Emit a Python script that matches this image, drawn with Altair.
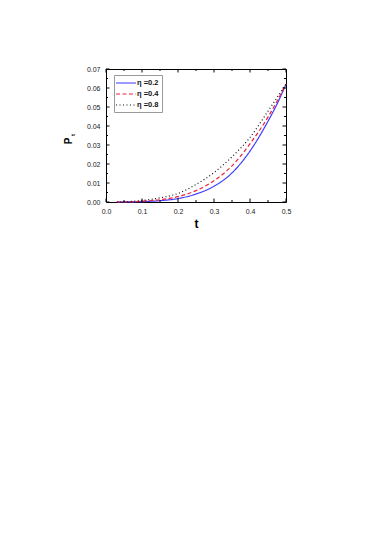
import altair as alt
import pandas as pd

# ---- data ----
t_vals = [0.03, 0.05, 0.1, 0.15, 0.2, 0.25, 0.3, 0.35, 0.4, 0.45, 0.475, 0.5]
p_eta02 = [0.0, 0.00002, 0.0002, 0.0007, 0.0018, 0.0042, 0.0083, 0.0153, 0.0268, 0.0425, 0.0515, 0.062]
p_eta04 = [0.0, 0.00004, 0.0004, 0.0012, 0.0028, 0.006, 0.0112, 0.019, 0.0306, 0.0447, 0.053, 0.062]
p_eta08 = [0.0, 0.0001, 0.0008, 0.0022, 0.0045, 0.0092, 0.0155, 0.0238, 0.034, 0.0478, 0.0549, 0.062]
series_names = ["η =0.2", "η =0.4", "η =0.8"]
series_colors = ["#3b3bff", "#f0203a", "#111111"]
series_dashes = [[1, 0], [4, 2.5], [1, 2.5]]

x_ticks = [0.0, 0.1, 0.2, 0.3, 0.4, 0.5]
x_minor = [0.05, 0.15, 0.25, 0.35, 0.45]
y_ticks = [0.0, 0.01, 0.02, 0.03, 0.04, 0.05, 0.06, 0.07]
y_minor = [0.005, 0.015, 0.025, 0.035, 0.045, 0.055, 0.065]

rows = []
for name, vals in zip(series_names, [p_eta02, p_eta04, p_eta08]):
    for t, p in zip(t_vals, vals):
        rows.append({"t": t, "P": p, "series": name})
df = pd.DataFrame(rows)

W, H = 180, 133
FONT = "Liberation Sans"

xs = alt.Scale(domain=[0, 0.5], nice=False)
ys = alt.Scale(domain=[0, 0.07], nice=False)

x_axis = alt.Axis(values=x_ticks, format=".1f", title="t", ticks=False, domain=False,
                  grid=False, labelFontSize=7, labelPadding=5, labelColor="#222",
                  labelOverlap=False, labelFlush=False,
                  titleFontSize=12, titleFontWeight="bold", titlePadding=4, titleColor="#000")
y_axis = alt.Axis(values=y_ticks, format=".2f", title=None, ticks=False, domain=False,
                  grid=False, labelFontSize=7, labelPadding=6, labelColor="#222",
                  labelOverlap=False, labelFlush=False)

legend_kw = dict(title=None, orient="none", legendX=8, legendY=6,
                 symbolType="M-2.5,0H2.5", symbolSize=64, symbolStrokeWidth=1.2,
                 symbolOffset=4, labelFontSize=7.5, labelFontWeight="bold",
                 labelOffset=6, rowPadding=2, padding=3,
                 strokeColor="#999", fillColor="white", labelColor="#111")

lines = alt.Chart(df).mark_line(strokeWidth=1.2, interpolate="monotone").encode(
    x=alt.X("t:Q", scale=xs, axis=x_axis),
    y=alt.Y("P:Q", scale=ys, axis=y_axis),
    color=alt.Color("series:N", scale=alt.Scale(domain=series_names, range=series_colors),
                    legend=alt.Legend(**legend_kw)),
    strokeDash=alt.StrokeDash("series:N", scale=alt.Scale(domain=series_names, range=series_dashes),
                              legend=alt.Legend(**legend_kw)),
)

def tick_layer(vals, channel, length, side):
    base = alt.Chart(pd.DataFrame({"t" if channel == "x" else "P": vals})).mark_rule(
        color="#000", strokeWidth=1)
    if channel == "x":
        xe = alt.X("t:Q", scale=xs, axis=x_axis)
        if side == "bottom":
            return base.encode(x=xe, y=alt.value(H), y2=alt.value(H - length))
        return base.encode(x=xe, y=alt.value(0), y2=alt.value(length))
    ye = alt.Y("P:Q", scale=ys, axis=y_axis)
    if side == "left":
        return base.encode(y=ye, x=alt.value(0), x2=alt.value(length))
    return base.encode(y=ye, x=alt.value(W), x2=alt.value(W - length))

ticks = [
    tick_layer(x_ticks, "x", 3.5, "bottom"), tick_layer(x_minor, "x", 2, "bottom"),
    tick_layer(x_ticks, "x", 3.5, "top"), tick_layer(x_minor, "x", 2, "top"),
    tick_layer(y_ticks, "y", 3.5, "left"), tick_layer(y_minor, "y", 2, "left"),
    tick_layer(y_ticks, "y", 3.5, "right"), tick_layer(y_minor, "y", 2, "right"),
]

title_p = alt.Chart(pd.DataFrame({"s": ["P"]})).mark_text(
    font=FONT, fontSize=10, fontWeight="bold", angle=270, align="center", baseline="middle", color="#000"
).encode(text="s:N", x=alt.value(-37), y=alt.value(72))
title_sub = alt.Chart(pd.DataFrame({"s": ["t"]})).mark_text(
    font=FONT, fontSize=6, fontWeight="bold", angle=270, align="center", baseline="middle", color="#000"
).encode(text="s:N", x=alt.value(-33.5), y=alt.value(66))

chart = alt.layer(lines, *ticks, title_p, title_sub).properties(
    width=W, height=H,
    autosize=alt.AutoSizeParams(type="none"),
    padding={"left": 98, "top": 61, "right": 88, "bottom": 300},
).configure(font=FONT).configure_axis(labelOverlap=False).configure_view(stroke="#000", strokeWidth=1)

chart.save("out.html", embed_options={"renderer": "svg", "actions": False})
